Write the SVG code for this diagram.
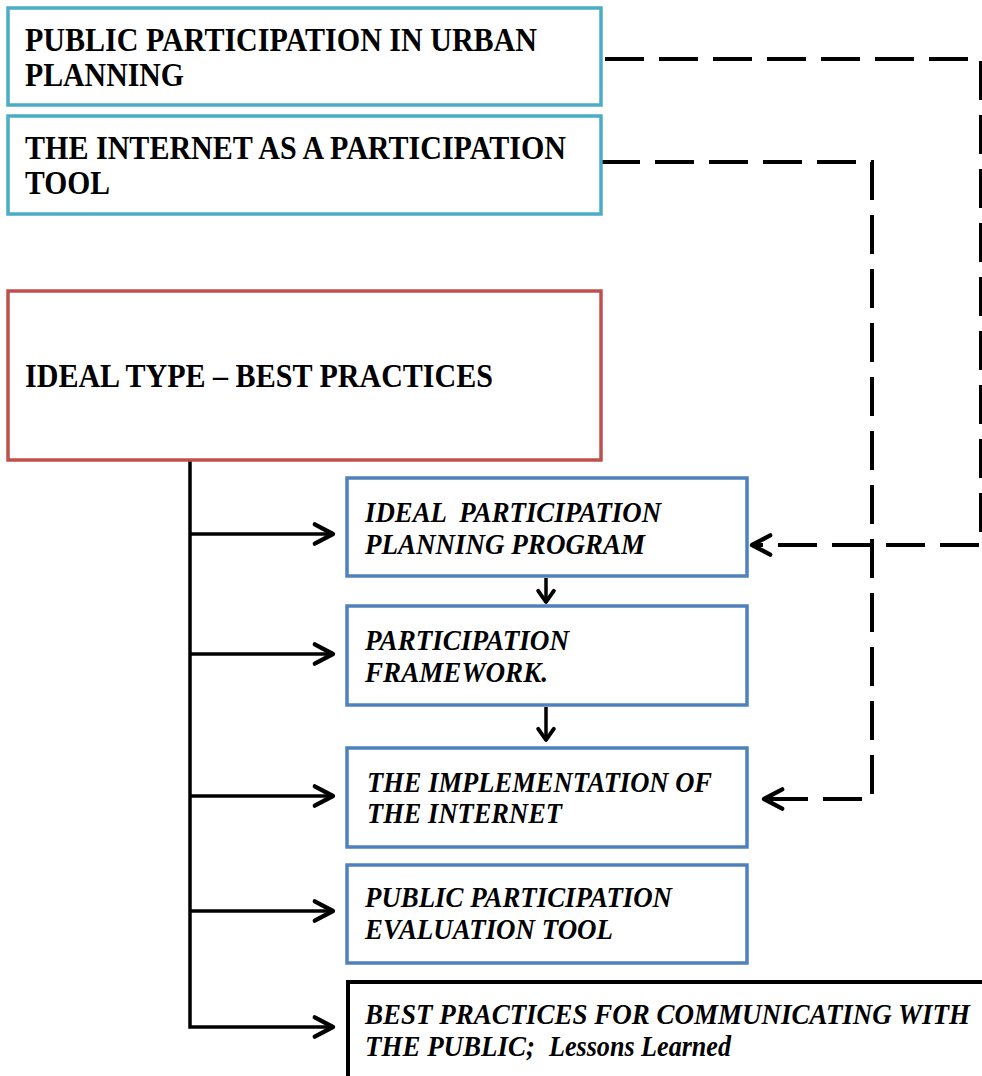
<svg xmlns="http://www.w3.org/2000/svg" width="982" height="1076" viewBox="0 0 982 1076">
  <style>
    .box { fill: #ffffff; stroke-width: 3.5; }
    .teal { stroke: #4BACC6; }
    .red { stroke: #C0504D; }
    .blue { stroke: #4F81BD; }
    .black { stroke: #000000; stroke-width: 4; }
    .hd { font-family: "Liberation Serif", "Times New Roman", serif; font-weight: bold; font-size: 33px; fill: #000; }
    .it { font-family: "Liberation Serif", "Times New Roman", serif; font-weight: bold; font-style: italic; font-size: 29px; fill: #000; }
    .solid { fill: none; stroke: #000; stroke-width: 3.5; }
    .dash { fill: none; stroke: #000; stroke-width: 4; stroke-dasharray: 39 15; }
  </style>
  <defs>
    <marker id="chev" markerUnits="userSpaceOnUse" markerWidth="30" markerHeight="30" viewBox="-24 -12 28 24" refX="0" refY="0" orient="auto">
      <path d="M-17,-9 L0,0 L-17,9" fill="none" stroke="#000" stroke-width="4" stroke-linecap="round" stroke-linejoin="round"/>
    </marker>
    <marker id="chevS" markerUnits="userSpaceOnUse" markerWidth="20" markerHeight="20" viewBox="-14 -9 18 18" refX="0" refY="0" orient="auto">
      <path d="M-10,-7 L0,0 L-10,7" fill="none" stroke="#000" stroke-width="3.5" stroke-linecap="round" stroke-linejoin="round"/>
    </marker>
  </defs>

  <rect width="982" height="1076" fill="#ffffff"/>

  <!-- connectors -->
  <g id="connectors">
    <path class="dash" d="M605,59 H981 V545 H752" marker-end="url(#chev)"/>
    <path class="dash" d="M601,162 H872 V799 H764" marker-end="url(#chev)"/>
    <path class="solid" d="M190,460 V1027 H333" marker-end="url(#chev)"/>
    <path class="solid" d="M190,534 H333" marker-end="url(#chev)"/>
    <path class="solid" d="M190,654 H333" marker-end="url(#chev)"/>
    <path class="solid" d="M190,796 H333" marker-end="url(#chev)"/>
    <path class="solid" d="M190,911 H333" marker-end="url(#chev)"/>
    <path class="solid" d="M546,578 V602" marker-end="url(#chevS)"/>
    <path class="solid" d="M546,707 V740" marker-end="url(#chevS)"/>
  </g>

  <g id="public-participation">
    <rect class="box teal" x="8" y="8" width="593" height="97"/>
    <text class="hd" x="25" y="51" textLength="512" lengthAdjust="spacingAndGlyphs">PUBLIC PARTICIPATION IN URBAN</text>
    <text class="hd" x="25" y="86" textLength="159" lengthAdjust="spacingAndGlyphs">PLANNING</text>
  </g>

  <g id="internet-tool">
    <rect class="box teal" x="8" y="116" width="593" height="98"/>
    <text class="hd" x="25" y="159" textLength="541" lengthAdjust="spacingAndGlyphs">THE INTERNET AS A PARTICIPATION</text>
    <text class="hd" x="25" y="194" textLength="85" lengthAdjust="spacingAndGlyphs">TOOL</text>
  </g>

  <g id="ideal-type">
    <rect class="box red" x="8" y="291" width="593" height="169"/>
    <text class="hd" x="25" y="387" textLength="468" lengthAdjust="spacingAndGlyphs">IDEAL TYPE – BEST PRACTICES</text>
  </g>

  <g id="planning-program">
    <rect class="box blue" x="347" y="478" width="400" height="98"/>
    <text class="it" x="365" y="522" textLength="296" lengthAdjust="spacingAndGlyphs" xml:space="preserve">IDEAL  PARTICIPATION</text>
    <text class="it" x="365" y="554" textLength="280" lengthAdjust="spacingAndGlyphs">PLANNING PROGRAM</text>
  </g>

  <g id="framework">
    <rect class="box blue" x="347" y="606" width="400" height="99"/>
    <text class="it" x="365" y="650" textLength="204" lengthAdjust="spacingAndGlyphs">PARTICIPATION</text>
    <text class="it" x="365" y="682" textLength="183" lengthAdjust="spacingAndGlyphs">FRAMEWORK.</text>
  </g>

  <g id="implementation">
    <rect class="box blue" x="347" y="748" width="400" height="99"/>
    <text class="it" x="367" y="792" textLength="345" lengthAdjust="spacingAndGlyphs">THE IMPLEMENTATION OF</text>
    <text class="it" x="367" y="823" textLength="195" lengthAdjust="spacingAndGlyphs">THE INTERNET</text>
  </g>

  <g id="evaluation-tool">
    <rect class="box blue" x="347" y="865" width="400" height="98"/>
    <text class="it" x="365" y="907" textLength="307" lengthAdjust="spacingAndGlyphs">PUBLIC PARTICIPATION</text>
    <text class="it" x="365" y="939" textLength="248" lengthAdjust="spacingAndGlyphs">EVALUATION TOOL</text>
  </g>

  <g id="communicating">
    <rect class="box black" x="348" y="982" width="640" height="110"/>
    <text class="it" x="365" y="1024" textLength="605" lengthAdjust="spacingAndGlyphs">BEST PRACTICES FOR COMMUNICATING WITH</text>
    <text class="it" x="365" y="1056" textLength="170" lengthAdjust="spacingAndGlyphs">THE PUBLIC;</text>
    <text class="it" x="549" y="1056" font-size="25" textLength="182" lengthAdjust="spacingAndGlyphs">Lessons Learned</text>
  </g>
</svg>
